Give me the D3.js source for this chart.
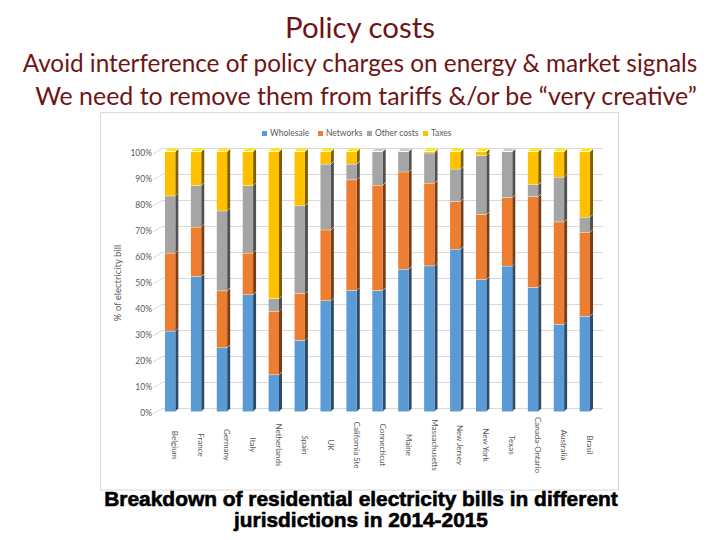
<!DOCTYPE html>
<html><head><meta charset="utf-8">
<script src="https://cdn.jsdelivr.net/npm/d3@7"></script>
<style>html,body{margin:0;padding:0;background:#fff;}svg{display:block;}</style>
</head><body>
<svg id="c" width="720" height="540"></svg>
<script>
const categories = ["Belgium","France","Germany","Italy","Netherlands","Spain","UK","California Ste","Connecticut","Maine","Massachusetts","New Jersey","New York","Texas","Canada-Ontario","Australia","Brasil"];
const seriesNames = ["Wholesale","Networks","Other costs","Taxes"];
const wholesale = [31, 52, 24.6, 45, 14.2, 27.4, 42.7, 46.6, 46.6, 54.8, 56.1, 62.5, 50.8, 56, 47.8, 33.6, 36.7];
const networks  = [30, 19, 21.9, 16, 24.4, 18, 27.2, 42.6, 40.5, 37.4, 31.8, 18.3, 25.1, 26.4, 34.9, 39.4, 32.3];
const otherCosts= [22, 16, 30.7, 26, 4.9, 33.8, 25.3, 6, 12.9, 7.8, 11.6, 12.5, 22.6, 17.6, 4.6, 17.2, 5.8];
const taxes     = [17, 13, 22.8, 13, 56.5, 20.8, 4.8, 4.8, 0, 0, 0.5, 6.7, 1.5, 0, 12.7, 9.8, 25.2];
const yTicks = [0,10,20,30,40,50,60,70,80,90,100];
const titleText = "Policy costs";
const subtitleLines = ["Avoid interference of policy charges on energy & market signals", "We need to remove them from tariffs &/or be \u201cvery creative\u201d"];
const captionLines = ["Breakdown of residential electricity bills in different", "jurisdictions in 2014-2015"];
const yAxisTitle = "% of electricity bill";

const colors = ["#5b9bd5","#ed7d31","#a5a5a5","#ffc000"];
const sideColors = ["#2e4a66","#7a3c12","#505050","#7f6000"];

const svg = d3.select("#c");
const table = categories.map((c,i)=>({cat:c, "Wholesale":wholesale[i], "Networks":networks[i], "Other costs":otherCosts[i], "Taxes":taxes[i]}));
const stacked = d3.stack().keys(seriesNames)(table);

function fitText(sel, target){
  const w = sel.node().getComputedTextLength();
  const fs = parseFloat(sel.attr("font-size"));
  sel.attr("font-size", fs*target/w);
}

// Titles
const tc = "#701414";
fitText(svg.append("text").attr("x",360).attr("y",38).attr("text-anchor","middle")
  .attr("font-family","Lato, 'Open Sans', sans-serif").attr("font-size",30).attr("fill",tc).text(titleText),150);
fitText(svg.append("text").attr("x",360).attr("y",72).attr("text-anchor","middle")
  .attr("font-family","Lato, 'Open Sans', sans-serif").attr("font-size",24).attr("fill",tc).text(subtitleLines[0]),675);
fitText(svg.append("text").attr("x",366).attr("y",105).attr("text-anchor","middle")
  .attr("font-family","Lato, 'Open Sans', sans-serif").attr("font-size",24).attr("fill",tc).text(subtitleLines[1]),662);

// frame
svg.append("rect").attr("x",100.5).attr("y",112.5).attr("width",518).attr("height",377.5)
  .attr("fill","none").attr("stroke","#d9d9d9").attr("stroke-width",1);

// Scales
const x = d3.scaleBand().domain(categories).range([152,603]).paddingInner(0.6).paddingOuter(0.5);
const y = d3.scaleLinear().domain([0,100]).range([411.5,151.5]);
const bw = x.bandwidth();
const D = 3;

// gridlines (3D back wall)
const grid = svg.append("g");
yTicks.forEach(t=>{
  const yy = y(t);
  grid.append("line").attr("x1",153).attr("y1",yy+2.5).attr("x2",162).attr("y2",yy-3)
    .attr("stroke","#d9d9d9").attr("stroke-width",1);
  grid.append("line").attr("x1",162).attr("y1",yy-3).attr("x2",603).attr("y2",yy-3)
    .attr("stroke","#d9d9d9").attr("stroke-width",1);
  grid.append("text").attr("x",152).attr("y",yy+2).attr("dy","0.35em").attr("text-anchor","end")
    .attr("font-family","Lato, 'Liberation Sans', sans-serif").attr("font-size",8.5).attr("fill","#595959")
    .text(t+"%");
});

// y axis title
svg.append("text").attr("transform","translate(121,283) rotate(-90)").attr("text-anchor","middle")
  .attr("font-family","Lato, 'Liberation Sans', sans-serif").attr("font-size",9.5).attr("fill","#595959")
  .text(yAxisTitle);

// bars
const bars = svg.append("g");
stacked.forEach((layer,si)=>{
  layer.forEach((d,ci)=>{
    if (d[1]-d[0] <= 0) return;
    const x0 = x(categories[ci]);
    const yt = y(d[1]), yb = y(d[0]);
    const g = bars.append("g");
    g.append("polygon").attr("points",[[x0+bw,yt],[x0+bw+D,yt-D],[x0+bw+D,yb-D],[x0+bw,yb]].map(p=>p.join(",")).join(" "))
      .attr("fill",sideColors[si]);
    g.append("rect").attr("x",x0).attr("y",yt).attr("width",bw).attr("height",yb-yt).attr("fill",colors[si]);
    g.append("polygon").attr("points",[[x0,yt],[x0+D,yt-D],[x0+bw+D,yt-D],[x0+bw,yt]].map(p=>p.join(",")).join(" "))
      .attr("fill",d3.color(colors[si]).brighter(0.6));
    g.append("polyline").attr("points",[[x0,yt],[x0+bw,yt],[x0+bw+D,yt-D]].map(p=>p.join(",")).join(" "))
      .attr("fill","none").attr("stroke","#fffbe8").attr("stroke-width",1);
  });
});

// x labels
categories.forEach(c=>{
  svg.append("text").attr("transform",`translate(${x(c)+bw/2+5},445) rotate(90)`)
    .attr("text-anchor","middle").attr("dy","0.35em")
    .attr("font-family","Lato, 'Liberation Sans', sans-serif").attr("font-size",8).attr("fill","#595959")
    .text(c);
});

// legend
const legendX = [262,318,367,423];
seriesNames.forEach((s,i)=>{
  svg.append("rect").attr("x",legendX[i]).attr("y",131).attr("width",5).attr("height",5).attr("fill",colors[i]);
  svg.append("text").attr("x",legendX[i]+8).attr("y",133.5).attr("dy","0.35em")
    .attr("font-family","Lato, 'Liberation Sans', sans-serif").attr("font-size",8.5).attr("fill","#595959").text(s);
});

// caption
fitText(svg.append("text").attr("x",361).attr("y",506).attr("text-anchor","middle")
  .attr("font-family","'Liberation Sans', Arial, sans-serif").attr("font-weight","bold").attr("font-size",17).attr("fill","#000")
  .attr("stroke","#000").attr("stroke-width",0.6)
  .text(captionLines[0]),514);
fitText(svg.append("text").attr("x",361).attr("y",527).attr("text-anchor","middle")
  .attr("font-family","'Liberation Sans', Arial, sans-serif").attr("font-weight","bold").attr("font-size",17).attr("fill","#000")
  .attr("stroke","#000").attr("stroke-width",0.6)
  .text(captionLines[1]),254);
</script>
</body></html>
